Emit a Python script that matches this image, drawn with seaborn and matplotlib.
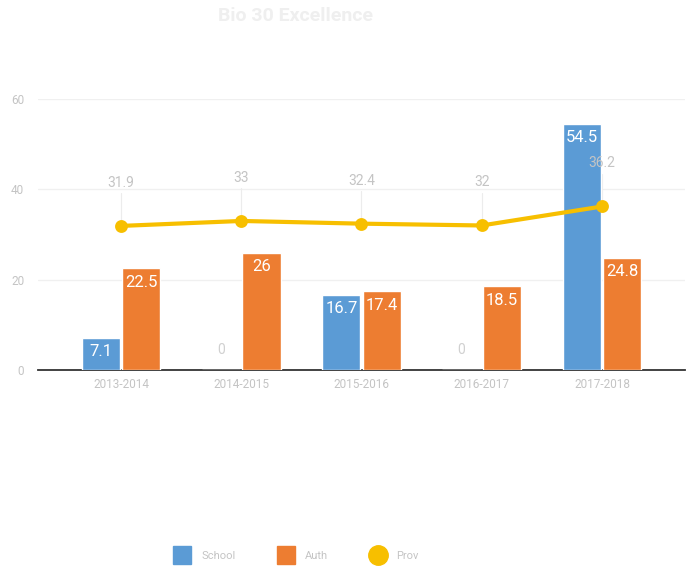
import matplotlib
matplotlib.use("Agg")
import matplotlib.pyplot as plt
from matplotlib.lines import Line2D
import seaborn as sns
import pandas as pd

years = ["2013-2014", "2014-2015", "2015-2016", "2016-2017", "2017-2018"]
school = [7.1, 0, 16.7, 0, 54.5]
auth = [22.5, 26, 17.4, 18.5, 24.8]
prov = [31.9, 33, 32.4, 32, 36.2]

BLUE = "#5b9bd5"
ORANGE = "#ed7d31"
GOLD = "#f7bf00"
LIGHT = "#c4c4c4"

sns.set_theme(style="white")
plt.rcParams["font.family"] = ["Roboto", "DejaVu Sans"]

bars = pd.DataFrame({
    "year": years * 2,
    "value": school + auth,
    "series": ["School"] * len(years) + ["Auth"] * len(years),
})
line = pd.DataFrame({"year": years, "prov": prov})

fig = plt.figure(figsize=(6.92, 5.67), dpi=100)
ax = fig.add_axes([38 / 692, 1 - 370 / 567, (685 - 38) / 692, (370 - 99) / 567])

sns.barplot(data=bars, x="year", y="value", hue="series",
            palette={"School": BLUE, "Auth": ORANGE}, width=0.67, gap=0.05,
            saturation=1, legend=False, ax=ax, zorder=3)

sns.pointplot(data=line, x="year", y="prov", color=GOLD, markers="o",
              markersize=7, linewidth=3, ax=ax, zorder=4)

ax.set_ylim(0, 60)
ax.set_xlim(-0.69, 4.69)
ax.set_yticks([0, 20, 40, 60])
ax.yaxis.grid(True, color="#f0f0f0", linewidth=1)
ax.set_axisbelow(True)
for s in ["top", "right", "left"]:
    ax.spines[s].set_visible(False)
ax.spines["bottom"].set_color("#333333")
ax.spines["bottom"].set_linewidth(1.3)
ax.tick_params(axis="both", length=0, labelsize=8.5, labelcolor=LIGHT)
ax.tick_params(axis="y", pad=10)
ax.tick_params(axis="x", pad=6)
ax.set_xlabel("")
ax.set_ylabel("")

# value labels inside the bars (grey "0" for empty bars)
for container in ax.containers:
    for patch in container:
        h = patch.get_height()
        xc = patch.get_x() + patch.get_width() / 2
        if h == 0:
            ax.text(xc, 4.5, "0", ha="center", va="center", fontsize=10,
                    color="#d0d0d0", zorder=5)
        else:
            ax.text(xc, h - 3.1, f"{h:g}", ha="center", va="center",
                    fontsize=12, color="white", zorder=5)

# provincial labels with thin leader lines
for i, v in enumerate(prov):
    ax.plot([i, i], [v, v + 7.2], color="#ececec", linewidth=0.8, zorder=2)
    ax.text(i, v + 8.0, f"{v:g}", ha="center", va="bottom", fontsize=10,
            color=LIGHT, zorder=5)

fig.text(0.427, 0.972, "Bio 30 Excellence", ha="center", va="center",
         fontsize=14, fontweight="bold", color="#efefef")

handles = [
    Line2D([], [], marker="s", linestyle="none", markersize=13,
           markerfacecolor=BLUE, markeredgecolor=BLUE, label="School"),
    Line2D([], [], marker="s", linestyle="none", markersize=13,
           markerfacecolor=ORANGE, markeredgecolor=ORANGE, label="Auth"),
    Line2D([], [], marker="o", linestyle="none", markersize=14,
           markerfacecolor=GOLD, markeredgecolor=GOLD, label="Prov"),
]
leg = fig.legend(handles=handles, loc="center", bbox_to_anchor=(0.428, 0.019),
                 ncol=3, frameon=False, fontsize=8, handlelength=1.6,
                 columnspacing=3.7, handletextpad=0.9)
for t in leg.get_texts():
    t.set_color(LIGHT)

fig.savefig("out.png", dpi=100)
